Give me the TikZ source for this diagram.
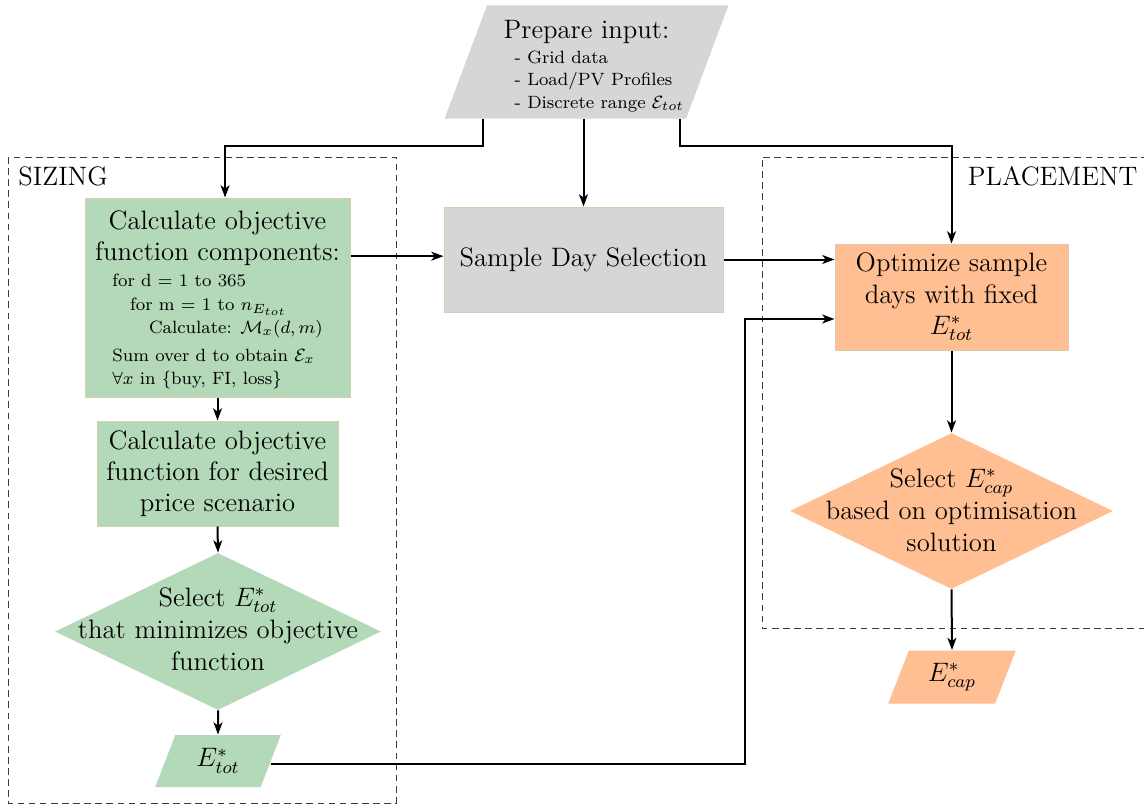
\documentclass[tikz,border=0pt]{standalone}
\usetikzlibrary{shapes.geometric,arrows.meta}

\definecolor{sizgreen}{RGB}{179,217,185}
\definecolor{inpgray}{RGB}{214,214,214}
\definecolor{plcorange}{RGB}{255,191,147}
\definecolor{edgetan}{RGB}{216,204,178}
\definecolor{framegray}{RGB}{60,60,60}

% centred multi-line text for the decision diamonds, lowered by #1
\newcommand{\diamondtext}[2]{\makebox[0pt]{\raisebox{-#1}[0pt][0pt]{%
  \renewcommand{\arraystretch}{1.03}\begin{tabular}{@{}c@{}}#2\end{tabular}}}}

\begin{document}
\begin{tikzpicture}[x=0.45pt,y=-0.45pt,
  box/.style={rectangle, draw=edgetan, line width=0.45pt, inner sep=2pt, align=center, font=\large},
  io/.style={trapezium, trapezium left angle=69, trapezium right angle=111,
    trapezium stretches=true, inner sep=1pt, align=center, font=\large},
  decision/.style={diamond, inner sep=0pt, align=center, font=\large},
  arr/.style={-{Stealth[length=5.5pt,width=4pt,inset=1.5pt]}, line width=0.9pt},
  frame/.style={draw=framegray, dash pattern=on 3pt off 2pt, line width=0.4pt},
  framelabel/.style={font=\large, inner sep=0pt}]

\useasboundingbox (0,0) rectangle (1144,807);

% group frames
\draw[frame] (8,157) rectangle (396,803);
\draw[frame] (1170,157) -- (762,157) -- (762,628) -- (1170,628);
\node[framelabel, anchor=west] (sizlabel) at (18,176) {SIZING};
\node[framelabel, anchor=east] (plclabel) at (1138,176) {PLACEMENT};

% input
\node[io, fill=inpgray, minimum width=126.45pt, minimum height=50.85pt] (prep) at (586.5,62)
  {\rule{0pt}{13pt}Prepare input:\\[1pt]
   \hspace*{11.5pt}{\footnotesize\renewcommand{\arraystretch}{1.06}%
   \begin{tabular}{@{}l@{}}- Grid data\\- Load/PV Profiles\\- Discrete range $\mathcal{E}_{tot}$\end{tabular}}};

% sizing column
\node[box, fill=sizgreen, minimum width=119.25pt, minimum height=89.55pt] (calc) at (217.5,297.5)
  {\rule{0pt}{11.5pt}Calculate objective\\function components:\\[1.3pt]
   {\footnotesize\renewcommand{\arraystretch}{1.1}%
   \begin{tabular}{@{}l@{}}
    for d = 1 to 365\\
    \hspace*{8pt}for m = 1 to $n_{E_{tot}}$\\
    \hspace*{16.5pt}Calculate: $\mathcal{M}_x(d,m)$\\[2pt]
    Sum over d to obtain $\mathcal{E}_x$\\
    $\forall x$ in \{buy, FI, loss\}
   \end{tabular}}};

\node[box, fill=sizgreen, minimum width=108.45pt, minimum height=47.25pt] (scen) at (217.5,473.5)
  {Calculate objective\\function for desired\\price scenario};

\node[decision, fill=sizgreen, minimum width=146.7pt, minimum height=70.65pt] (selt) at (218,631.5)
  {\diamondtext{3.2pt}{Select $E^*_{tot}$\\that minimizes objective\\function}};

\node[io, fill=sizgreen, minimum width=56.7pt, minimum height=23.4pt] (etot) at (218,761) {$E^*_{tot}$};

% middle
\node[box, fill=inpgray, minimum width=125.55pt, minimum height=47.25pt] (sample) at (583.5,259.5)
  {Sample Day Selection};

% placement column
\node[box, fill=plcorange, minimum width=104.85pt, minimum height=47.7pt] (opt) at (951.5,297)
  {Optimize sample\\days with fixed\\$E^*_{tot}$};

\node[decision, fill=plcorange, minimum width=145.35pt, minimum height=70.2pt] (selc) at (951.5,511)
  {\diamondtext{3.9pt}{Select $E^*_{cap}$\\based on optimisation\\solution}};

\node[io, fill=plcorange, minimum width=57.6pt, minimum height=23.85pt] (ecap) at (952,677) {$E^*_{cap}$};

% connectors
\draw[arr] ([xshift=-46.6pt]prep.south) -- ++(0,27) -| ([xshift=3.4pt]calc.north);
\draw[arr] (prep.south -| sample.north) -- (sample.north);
\draw[arr] ([xshift=42.1pt]prep.south) -- ++(0,27) -| (opt.north);
\draw[arr] ([yshift=1.5pt]calc.east |- sample.west) -- ([yshift=1.5pt]sample.west);
\draw[arr] (sample.east) -- (sample.east -| opt.west);
\coordinate (lift) at (745,319);
\draw[arr] ([yshift=-1.3pt]etot.east) -| (lift) -- (lift -| opt.west);
\draw[arr] (calc.south) -- (scen.north);
\draw[arr] (scen.south) -- (selt.north);
\draw[arr] (selt.south) -- (etot.north);
\draw[arr] (opt.south) -- (selc.north);
\draw[arr] (selc.south) -- (ecap.north);

\end{tikzpicture}
\end{document}
